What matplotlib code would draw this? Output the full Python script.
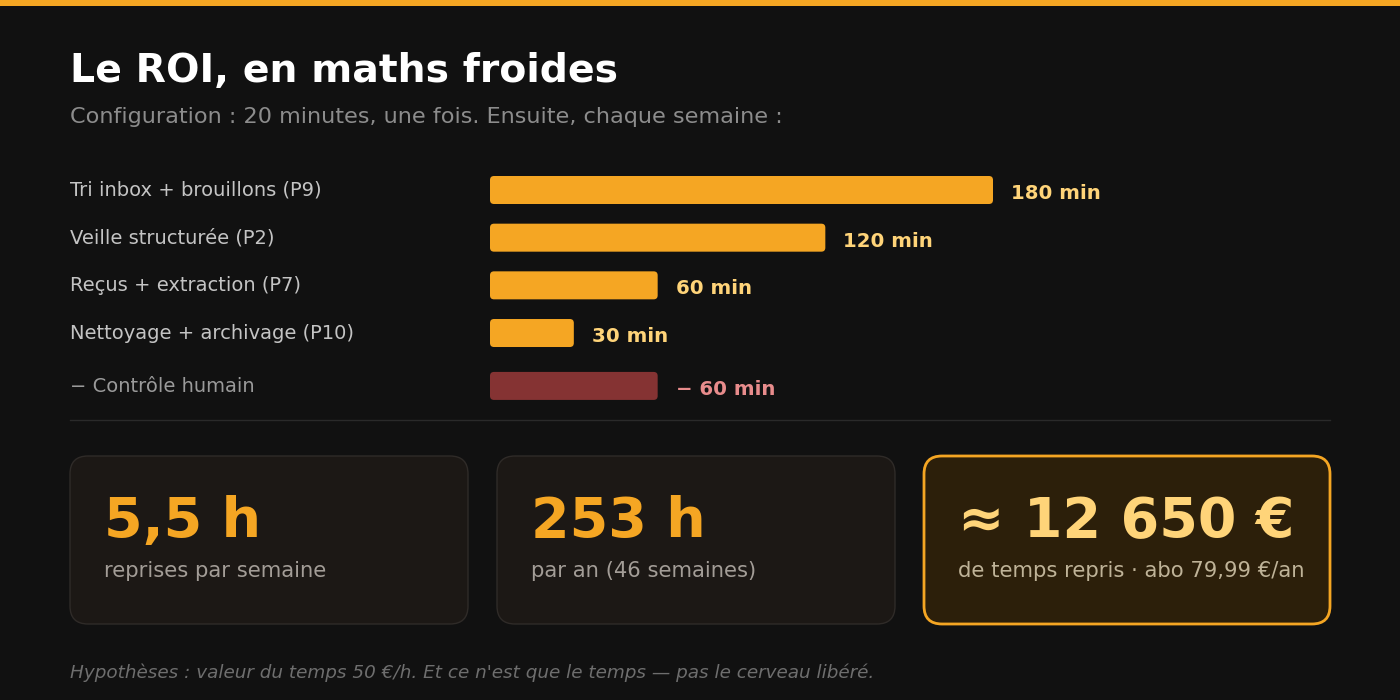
# ROI chart - weekly time saved

import numpy as np
import matplotlib.pyplot as plt
import matplotlib.transforms as mtransforms
from matplotlib.patches import FancyBboxPatch, Rectangle

plt.rcParams['font.family'] = ['DejaVu Sans']

# Data
tasks = ["Tri inbox + brouillons (P9)", "Veille structurée (P2)", "Reçus + extraction (P7)",
         "Nettoyage + archivage (P10)", "− Contrôle humain"]
minutes = [180, 120, 60, 30, 60]
value_labels = ["180 min", "120 min", "60 min", "30 min", "− 60 min"]
negative = [False, False, False, False, True]

card_values = ["5,5 h", "253 h", "≈ 12 650 €"]
card_texts = ["reprises par semaine", "par an (46 semaines)", "de temps repris · abo 79,99 €/an"]

BG = "#111111"
ORANGE = "#f5a623"
YELLOW = "#ffd479"
RED_BAR = "#853333"
RED_TXT = "#e88c8c"

fig = plt.figure(figsize=(14, 7), dpi=100, facecolor=BG)

# overlay in pixel coords
ov = fig.add_axes([0, 0, 1, 1])
ov.set_xlim(0, 1400)
ov.set_ylim(700, 0)
ov.axis("off")
ov.set_zorder(0)

ov.add_patch(Rectangle((0, 0), 1400, 6, color=ORANGE, lw=0))
ov.text(70, 82, "Le ROI, en maths froides", color="white", fontsize=28.4, fontweight="bold", va="baseline")
ov.text(70, 123, "Configuration : 20 minutes, une fois. Ensuite, chaque semaine :", color="#8c8c8c",
        fontsize=16.1, va="baseline")

# bars
row_px = 47.67
rows = np.array([0, 1, 2, 3, 4.11])
ax = fig.add_axes([490 / 1400, 1 - 410 / 700, 840 / 1400, 240 / 700])
ax.set_facecolor("none")
ax.set_xlim(0, 180 * 840 / 503)
ax.set_ylim((410 - 190) / row_px, (170 - 190) / row_px)
ax.axis("off")

colors = [RED_BAR if n else ORANGE for n in negative]
bars = ax.barh(rows, minutes, height=28 / row_px, color=colors)
px_x = 840 / (180 * 840 / 503)
rad = 4 / px_x
for b in bars:
    b.set_visible(False)
    ax.add_patch(FancyBboxPatch((b.get_x(), b.get_y()), b.get_width(), b.get_height(),
                                boxstyle=f"round,pad=0,rounding_size={rad}",
                                mutation_aspect=(4 / row_px) / rad,
                                fc=b.get_facecolor(), ec="none"))

lab_tr = mtransforms.blended_transform_factory(fig.transFigure, ax.transData)
for r, t, m, v, n in zip(rows, tasks, minutes, value_labels, negative):
    ax.text(70 / 1400, r + 6 / row_px, t, transform=lab_tr, color="#9a9a9a" if n else "#c4c4c4",
            fontsize=14, va="baseline")
    ax.annotate(v, (m, r + 9 / row_px), xytext=(18 * 0.72, 0), textcoords="offset points",
                color=RED_TXT if n else YELLOW, fontsize=14.2, fontweight="bold", va="baseline")

ov.plot([70, 1330], [420, 420], color="#2a2a2a", lw=1)

# cards
card_x = [70, 497, 924]
card_w = [398, 398, 406]
for i, (cx, cw) in enumerate(zip(card_x, card_w)):
    hl = i == 2
    ov.add_patch(FancyBboxPatch((cx, 456), cw, 168, boxstyle="round,pad=0,rounding_size=18",
                                fc="#2c1f0a" if hl else "#1c1815",
                                ec=ORANGE if hl else "#2f2b28", lw=2 if hl else 1))
    ov.text(cx + 34, 537, card_values[i], color=YELLOW if hl else ORANGE, fontsize=40,
            fontweight="bold", va="baseline")
    ov.text(cx + 34, 577, card_texts[i], color="#bfb398" if hl else "#a39d97", fontsize=15.2,
            va="baseline")

ov.text(70, 678, "Hypothèses : valeur du temps 50 €/h. Et ce n'est que le temps — pas le cerveau libéré.",
        color="#6e6e6e", fontsize=13.2, style="italic", va="baseline")

fig.savefig("out.png", dpi=100, facecolor=BG)
